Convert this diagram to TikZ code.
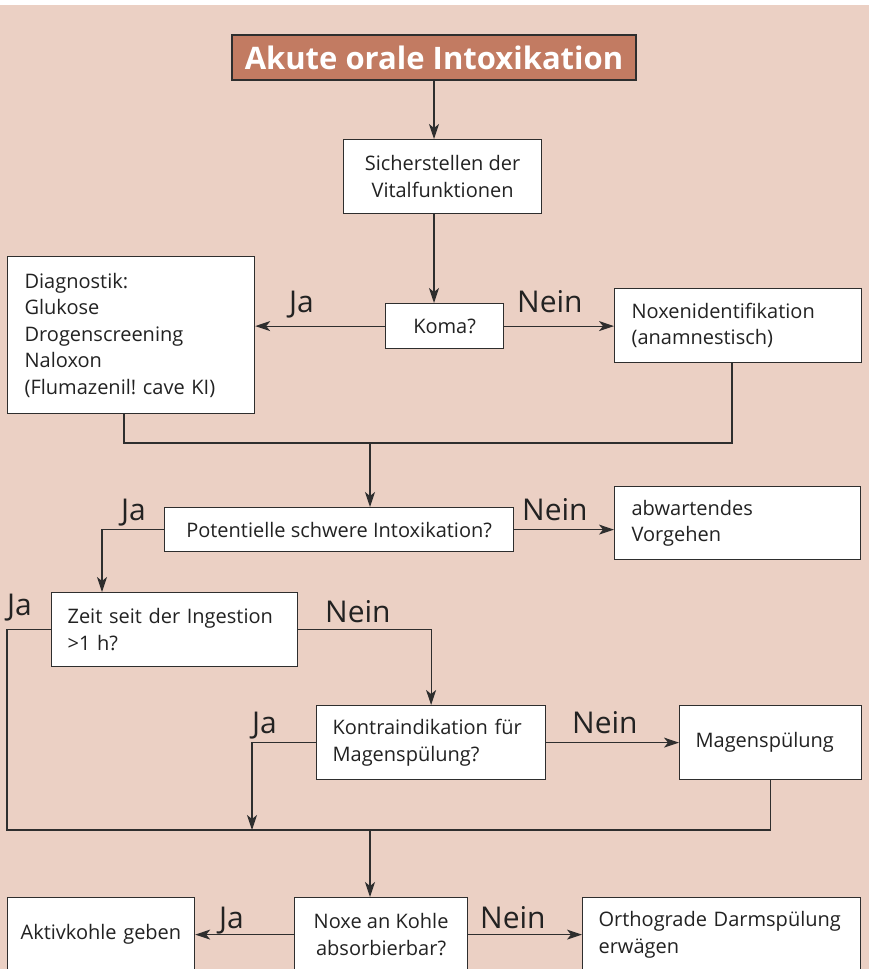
\documentclass[tikz,border=0pt]{standalone}
\usepackage{fontspec}
\setmainfont{Open Sans}
\usetikzlibrary{arrows.meta,calc}
\definecolor{bgc}{HTML}{EBD0C4}
\definecolor{titlec}{HTML}{C27B62}
\definecolor{linec}{HTML}{2E2E2E}
\definecolor{txtc}{HTML}{222222}
\frenchspacing
\begin{document}
\begin{tikzpicture}[x=1pt,y=-1pt,
  box/.style={draw=linec, fill=white, line width=1.2pt, inner sep=0pt, text=txtc,
    font=\fontsize{20}{26.5}\selectfont, anchor=north west},
  conn/.style={draw=linec, line width=1.2pt},
  arr/.style={conn, -{Stealth[length=15pt,width=10pt,inset=4pt]}},
  lab/.style={font=\fontsize{30}{30}\selectfont, text=txtc, inner sep=0pt, anchor=base west}]
\useasboundingbox (0,0) rectangle (869,969);
\clip (0,0) rectangle (869,969);
\fill[white] (0,0) rectangle (869,5);
\fill[bgc] (0,5) rectangle (869,969);

% nodes
\node[draw=linec, fill=titlec, line width=1.2pt, minimum width=404pt, minimum height=45pt,
  inner sep=0pt, text=white, font=\fontsize{31}{31}\selectfont\bfseries] (title) at (434,57.5) {Akute orale Intoxikation};
\node[box, minimum width=198pt, minimum height=74pt, align=center] (sich) at (343,139) {Sicherstellen der\\Vitalfunktionen};
\node[box, minimum width=118pt, minimum height=45pt, align=center] (koma) at (385,303) {Koma?};
\node[box, minimum width=247pt, minimum height=157pt, text width=213pt, align=left] (diag) at (7,256)
  {Diagnostik:\\Glukose\\Drogenscreening\\Naloxon\\(Flumazenil! cave KI)};
\node[box, minimum width=247pt, minimum height=74pt, text width=213pt, align=left] (noxen) at (614,288)
  {Noxenidentifikation\\(anamnestisch)};
\node[box, minimum width=349pt, minimum height=44pt, align=center] (pot) at (164,507) {Potentielle schwere Intoxikation?};
\node[box, minimum width=246pt, minimum height=73pt, text width=212pt, align=left] (abw) at (614,486)
  {abwartendes\\Vorgehen};
\node[box, minimum width=246pt, minimum height=74pt, text width=214pt, align=left] (zeit) at (51,592)
  {Zeit seit der Ingestion\\>1 h?};
\node[box, minimum width=229pt, minimum height=74pt, text width=197pt, align=left] (kontra) at (316,705)
  {Kontraindikation für\\Magenspülung?};
\node[box, minimum width=182pt, minimum height=74pt, text width=150pt, align=left] (mag) at (679,705)
  {Magenspülung};
\node[box, minimum width=187pt, minimum height=74pt, text width=161pt, align=left] (akt) at (7,897)
  {Aktivkohle geben};
\node[box, minimum width=173pt, minimum height=74pt, align=center] (noxe) at (294,897)
  {Noxe an Kohle\\absorbierbar?};
\node[box, minimum width=278pt, minimum height=74pt, text width=246pt, align=left] (orth) at (582,897)
  {Orthograde Darmspülung\\erwägen};

% connectors
\draw[arr] (title.south) -- (title.south |- sich.north);
\draw[arr] (sich.south -| title.south) -- (koma.north -| title.south);
\draw[arr] (koma.west) -- (koma.west -| diag.east);
\draw[arr] (koma.east) -- (koma.east -| noxen.west);
\coordinate (j1) at (370,443);
\coordinate (dx) at (124,0);
\coordinate (nx) at (732,0);
\draw[conn] (diag.south -| dx) |- (j1) -| (noxen.south -| nx);
\draw[arr] (j1) -- (j1 |- pot.north);
\coordinate (px) at (102,0);
\draw[arr] (pot.west) -| (zeit.north -| px);
\draw[arr] (pot.east) -- (pot.east -| abw.west);
\coordinate (jL) at (7,830);
\draw[conn] (zeit.west) -| (jL) -| (mag.south);
\draw[arr] (zeit.east) -| (kontra.north);
\coordinate (jK) at (252,830);
\draw[arr] (kontra.west) -| (jK);
\draw[arr] (kontra.east) -- (kontra.east -| mag.west);
\coordinate (j3) at (370,830);
\draw[arr] (j3) -- (j3 |- noxe.north);
\draw[arr] (noxe.west) -- (noxe.west -| akt.east);
\draw[arr] (noxe.east) -- (noxe.east -| orth.west);

% labels
\node[lab] (l1) at (289,312) {Ja};
\node[lab] (l2) at (517,312) {Nein};
\node[lab] (l3) at (121,520) {Ja};
\node[lab] (l4) at (522,520) {Nein};
\node[lab] (l5) at (7,615) {Ja};
\node[lab] (l6) at (325,622) {Nein};
\node[lab] (l7) at (252,733) {Ja};
\node[lab] (l8) at (572,733) {Nein};
\node[lab] (l9) at (219,928) {Ja};
\node[lab] (l10) at (480,928) {Nein};
\end{tikzpicture}
\end{document}
